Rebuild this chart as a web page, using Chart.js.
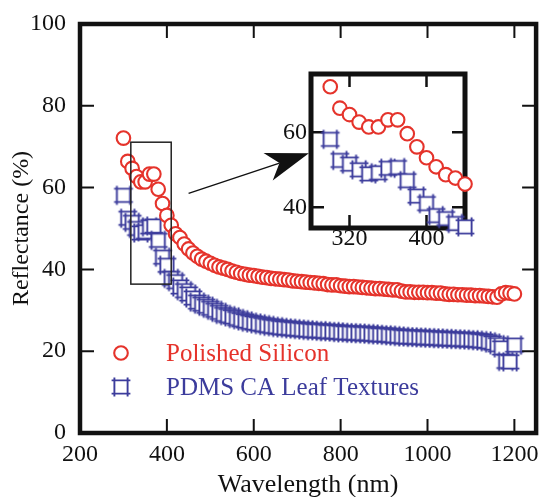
<!DOCTYPE html>
<html><head><meta charset="utf-8">
<script src="https://cdn.jsdelivr.net/npm/chart.js@4.4.1/dist/chart.umd.min.js"></script>
<style>
html,body{margin:0;padding:0;background:#fff;}
#wrap{position:relative;width:545px;height:497px;overflow:hidden;background:#fff;}
#main{position:absolute;left:0;top:0;}
#inset{position:absolute;left:270px;top:60px;}
</style></head><body>
<div id="wrap"><canvas id="main" width="545" height="497"></canvas><canvas id="inset" width="205" height="200"></canvas></div>
<script>
// ---- data ----
const wavelengths = [
 300,310,320,330,340,350,360,370,380,390,
 400,410,420,430,440,450,460,470,480,490,
 500,510,520,530,540,550,560,570,580,590,
 600,610,620,630,640,650,660,670,680,690,
 700,710,720,730,740,750,760,770,780,790,
 800,810,820,830,840,850,860,870,880,890,
 900,910,920,930,940,950,960,970,980,990,
 1000,1010,1020,1030,1040,1050,1060,1070,1080,1090,
 1100,1110,1120,1130,1140,1150,1160,1170,1180,1190,
 1200];
const siliconReflectance = [
 72.1,66.4,64.7,62.7,61.4,61.4,63.3,63.3,59.6,56.1,
 53.2,50.8,48.7,47.8,46.2,45.0,44.0,43.2,42.5,42.0,
 41.5,41.0,40.6,40.3,40.0,39.6,39.3,39.0,38.8,38.6,
 38.5,38.3,38.1,38.0,37.8,37.7,37.6,37.5,37.4,37.2,
 37.1,37.0,36.9,36.8,36.7,36.6,36.5,36.3,36.2,36.2,
 36.0,35.9,35.8,35.8,35.7,35.6,35.5,35.4,35.3,35.3,
 35.2,35.1,35.0,35.0,34.7,34.5,34.5,34.4,34.4,34.4,
 34.3,34.3,34.2,34.2,34.0,33.9,33.9,33.8,33.8,33.7,
 33.7,33.6,33.6,33.5,33.4,33.3,33.2,34.0,34.3,34.2,
 34.0];
const pdmsReflectance = [
 58.1,52.5,51.5,50.0,48.9,49.2,50.4,50.6,47.1,43.0,
 41.0,37.8,37.0,35.7,34.8,34.0,33.0,32.0,31.5,31.0,
 30.5,30.0,29.5,29.0,28.7,28.4,28.0,27.7,27.4,27.1,
 26.9,26.7,26.5,26.3,26.1,26.0,25.8,25.7,25.6,25.5,
 25.4,25.3,25.2,25.1,25.0,25.0,24.9,24.8,24.8,24.7,
 24.6,24.5,24.5,24.4,24.4,24.3,24.3,24.2,24.1,24.0,
 24.0,23.9,23.8,23.7,23.6,23.5,23.5,23.4,23.4,23.3,
 23.3,23.2,23.2,23.1,23.1,23.0,23.0,22.9,22.9,22.8,
 22.8,22.7,22.6,22.5,22.3,22.0,21.6,20.8,17.5,17.4,
 21.5];
const seriesLabels = ['Polished Silicon', 'PDMS CA Leaf Textures'];
const xTickValues = [200, 400, 600, 800, 1000, 1200];
const yTickValues = [0, 20, 40, 60, 80, 100];
const insetXTickValues = [320, 400];
const insetYTickValues = [40, 60];
const mainRangeX = [200, 1250];
const mainRangeY = [0, 100];
const insetRangeX = [280, 440];
const insetRangeY = [34.5, 75.5];
// zoom-box and arrow annotation, in data units of the main axes
const zoomBoxX = [317, 410];
const zoomBoxY = [36.4, 71.1];
const arrowStart = [450, 58.6];
const arrowEnd = [727, 68.4];

// ---- styling ----
const serif = "'Liberation Serif','Times New Roman',serif";
const RED = '#e5332b';
const BLUE = '#3c3c9c';
const INK = '#111';

function squareMarker(color){
  const c = document.createElement('canvas');
  c.width = 26; c.height = 26;
  const g = c.getContext('2d');
  const cx = 13, cy = 13, h = 6.6, o = 2.8;
  g.fillStyle = '#fff';
  g.fillRect(cx-h, cy-h, 2*h, 2*h);
  g.strokeStyle = color; g.lineWidth = 1.9;
  g.beginPath();
  g.moveTo(cx-h-o, cy-h); g.lineTo(cx+h+o, cy-h);
  g.moveTo(cx-h-o, cy+h); g.lineTo(cx+h+o, cy+h);
  g.moveTo(cx-h, cy-h-o); g.lineTo(cx-h, cy+h+o);
  g.moveTo(cx+h, cy-h-o); g.lineTo(cx+h, cy+h+o);
  g.stroke();
  return c;
}
const blueMarker = squareMarker(BLUE);

function makeDatasets(filterRange){
  const keep = (w) => !filterRange || (w >= filterRange[0] && w <= filterRange[1]);
  const pts = (vals) => wavelengths.map((w,i)=>({x:w, y:vals[i]})).filter(p=>keep(p.x));
  return [
    { label: seriesLabels[0], data: pts(siliconReflectance), showLine:false,
      pointStyle:'circle', pointRadius:6.8, pointBorderWidth:2.1,
      pointBorderColor:RED, pointBackgroundColor:'#fff', borderColor:RED, backgroundColor:'#fff' },
    { label: seriesLabels[1], data: pts(pdmsReflectance), showLine:false,
      pointStyle:blueMarker, pointRadius:7, pointBorderWidth:1.9,
      pointBorderColor:BLUE, pointBackgroundColor:'#fff', borderColor:BLUE, backgroundColor:'#fff' }
  ];
}

function framePlugin(opt){
  return {
    id:'frame',
    [opt.layer](chart){
      const {ctx, chartArea:a, scales:{x, y}} = chart;
      ctx.save();
      ctx.strokeStyle = INK;
      ctx.lineWidth = opt.tickWidth;
      ctx.beginPath();
      x.ticks.forEach(t=>{
        const px = x.getPixelForValue(t.value);
        if (px < a.left+3 || px > a.right-3) return;
        ctx.moveTo(px, a.bottom); ctx.lineTo(px, a.bottom-opt.tickLen);
        ctx.moveTo(px, a.top); ctx.lineTo(px, a.top+opt.tickLen);
      });
      y.ticks.forEach(t=>{
        const py = y.getPixelForValue(t.value);
        if (py < a.top+3 || py > a.bottom-3) return;
        ctx.moveTo(a.left, py); ctx.lineTo(a.left+opt.tickLen, py);
        ctx.moveTo(a.right, py); ctx.lineTo(a.right-opt.tickLen, py);
      });
      ctx.stroke();
      ctx.lineWidth = opt.frameWidth;
      ctx.lineJoin = 'miter';
      ctx.strokeRect(a.left, a.top, a.right-a.left, a.bottom-a.top);
      ctx.restore();
    }
  };
}

const annotationPlugin = {
  id:'annot',
  afterDatasetsDraw(chart){
    const {ctx, scales:{x, y}} = chart;
    ctx.save();
    // zoom box
    const x0 = x.getPixelForValue(zoomBoxX[0]), x1 = x.getPixelForValue(zoomBoxX[1]);
    const y0 = y.getPixelForValue(zoomBoxY[1]), y1 = y.getPixelForValue(zoomBoxY[0]);
    ctx.strokeStyle = '#222'; ctx.lineWidth = 1.5;
    ctx.strokeRect(x0, y0, x1-x0, y1-y0);
    // arrow
    const sx = x.getPixelForValue(arrowStart[0]), sy = y.getPixelForValue(arrowStart[1]);
    const tx = x.getPixelForValue(arrowEnd[0]), ty = y.getPixelForValue(arrowEnd[1]);
    const len = Math.hypot(tx-sx, ty-sy), dx = (tx-sx)/len, dy = (ty-sy)/len;
    const nx = -dy, ny = dx, L = 43, W = 14.5, N = 31;
    ctx.strokeStyle = INK; ctx.fillStyle = INK; ctx.lineWidth = 1.4;
    ctx.beginPath(); ctx.moveTo(sx, sy); ctx.lineTo(tx - dx*N, ty - dy*N); ctx.stroke();
    ctx.beginPath();
    ctx.moveTo(tx, ty);
    ctx.lineTo(tx - dx*L + nx*W, ty - dy*L + ny*W);
    ctx.lineTo(tx - dx*N, ty - dy*N);
    ctx.lineTo(tx - dx*L - nx*W, ty - dy*L - ny*W);
    ctx.closePath(); ctx.fill();
    // legend inside plot
    const a = chart.chartArea;
    chart.data.datasets.forEach((ds, i)=>{
      const my = a.bottom - 80 + i*34;
      const mx = a.left + 41;
      ctx.strokeStyle = ds.pointBorderColor; ctx.fillStyle = ds.pointBackgroundColor;
      ctx.lineWidth = ds.pointBorderWidth;
      Chart.helpers.drawPoint(ctx, {pointStyle: ds.pointStyle, radius: ds.pointRadius, borderWidth: ds.pointBorderWidth, rotation: 0}, mx, my);
      ctx.fillStyle = ds.pointBorderColor;
      ctx.font = '25px ' + serif;
      ctx.textBaseline = 'middle'; ctx.textAlign = 'left';
      ctx.fillText(ds.label, a.left + 86, my + 1);
    });
    ctx.restore();
  }
};

const fmt = (v) => String(v);
const noGrid = { display:false, drawTicks:false };

new Chart(document.getElementById('main'), {
  type:'scatter',
  data:{ datasets: makeDatasets(null) },
  options:{
    responsive:false, animation:false, devicePixelRatio:1,
    layout:{ padding:{ top:24, right:5, left:0, bottom:0 } },
    plugins:{ legend:{display:false}, tooltip:{enabled:false} },
    scales:{
      x:{ type:'linear', min:mainRangeX[0], max:mainRangeX[1],
        afterBuildTicks:(s)=>{ s.ticks = xTickValues.map(v=>({value:v})); },
        afterFit:(s)=>{ s.height = 64; s.paddingLeft = 0; s.paddingRight = 0; },
        grid:noGrid, border:{display:false},
        ticks:{ callback:fmt, font:{family:serif, size:24}, color:INK, padding:7, maxRotation:0, autoSkip:false },
        title:{ display:true, text:'Wavelength (nm)', color:INK, font:{family:serif, size:26, lineHeight:1}, padding:{top:0, bottom:-1} }
      },
      y:{ type:'linear', min:mainRangeY[0], max:mainRangeY[1],
        afterBuildTicks:(s)=>{ s.ticks = yTickValues.map(v=>({value:v})); },
        afterFit:(s)=>{ s.width = 80; s.paddingTop = 0; s.paddingBottom = 0; },
        grid:noGrid, border:{display:false},
        ticks:{ callback:fmt, font:{family:serif, size:24}, color:INK, padding:14, autoSkip:false },
        title:{ display:true, text:'Reflectance (%)', color:INK, font:{family:serif, size:24, lineHeight:1}, padding:{top:10, bottom:0} }
      }
    }
  },
  plugins:[ framePlugin({layer:'afterDraw', frameWidth:4.5, tickLen:14, tickWidth:2}), annotationPlugin ]
});

new Chart(document.getElementById('inset'), {
  type:'scatter',
  data:{ datasets: makeDatasets(insetRangeX) },
  options:{
    responsive:false, animation:false, devicePixelRatio:1,
    layout:{ padding:{ top:14, right:10, left:0, bottom:0 } },
    plugins:{ legend:{display:false}, tooltip:{enabled:false} },
    datasets:{ scatter:{ clip:false } },
    scales:{
      x:{ type:'linear', min:insetRangeX[0], max:insetRangeX[1],
        afterBuildTicks:(s)=>{ s.ticks = insetXTickValues.map(v=>({value:v})); },
        afterFit:(s)=>{ s.height = 32; s.paddingLeft = 0; s.paddingRight = 0; },
        grid:noGrid, border:{display:false},
        ticks:{ callback:fmt, font:{family:serif, size:24}, color:INK, padding:-4, maxRotation:0, autoSkip:false }
      },
      y:{ type:'linear', min:insetRangeY[0], max:insetRangeY[1],
        afterBuildTicks:(s)=>{ s.ticks = insetYTickValues.map(v=>({value:v})); },
        afterFit:(s)=>{ s.width = 41; s.paddingTop = 0; s.paddingBottom = 0; },
        grid:noGrid, border:{display:false},
        ticks:{ callback:fmt, font:{family:serif, size:24}, color:INK, padding:4, autoSkip:false }
      }
    }
  },
  plugins:[ framePlugin({layer:'beforeDatasetsDraw', frameWidth:5, tickLen:13, tickWidth:2.5}) ]
});
</script>
</body></html>
